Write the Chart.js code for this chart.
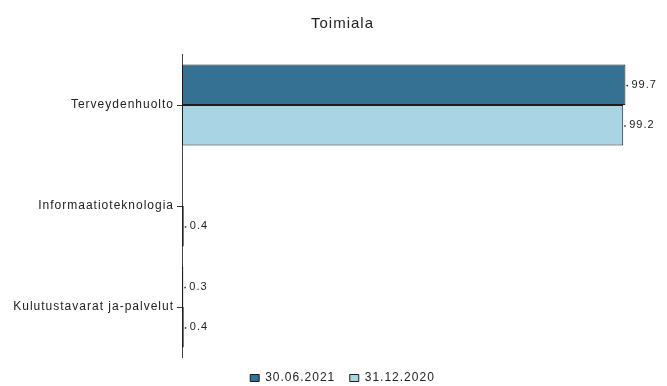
<!DOCTYPE html>
<html>
<head>
<meta charset="utf-8">
<script src="https://cdn.jsdelivr.net/npm/chart.js@4/dist/chart.umd.min.js"></script>
<style>
html,body{margin:0;padding:0;background:#fff;}
#wrap{width:667px;height:386px;position:relative;}
</style>
</head>
<body>
<div id="wrap"><canvas id="c"></canvas></div>
<script>
const categories = ['Terveydenhuolto', 'Informaatioteknologia', 'Kulutustavarat ja-palvelut'];
const seriesNames = ['30.06.2021', '31.12.2020'];
const values2021 = [99.7, null, 0.3];
const values2020 = [99.2, 0.4, 0.4];
const chartTitle = 'Toimiala';

const FONT = "'Liberation Sans', Arial, sans-serif";

function spacing(chart) { chart.ctx.letterSpacing = '1px'; }

const letterSpacingPlugin = {
  id: 'letterSpacing',
  beforeUpdate: spacing,
  beforeLayout: spacing,
  afterLayout(chart) { chart.scales.y.left = 0; },
  beforeDraw: spacing
};

const valueLabels = {
  id: 'valueLabels',
  afterDatasetsDraw(chart) {
    const ctx = chart.ctx;
    ctx.save();
    ctx.letterSpacing = '1px';
    ctx.font = '11px ' + FONT;
    ctx.fillStyle = '#222';
    ctx.textBaseline = 'middle';
    ctx.textAlign = 'left';
    chart.data.datasets.forEach((ds, i) => {
      const meta = chart.getDatasetMeta(i);
      meta.data.forEach((bar, j) => {
        const v = ds.data[j];
        if (v === null || v === undefined) return;
        ctx.fillRect(bar.x + 1, bar.y, 1.5, 1.5);
        ctx.fillText(v.toFixed(1), bar.x + 6, bar.y);
      });
    });
    ctx.restore();
  }
};

new Chart(document.getElementById('c'), {
  type: 'bar',
  data: {
    labels: categories,
    datasets: [
      { label: seriesNames[0], data: values2021, backgroundColor: 'rgb(52,113,147)', borderColor: '#1e1e1e', borderWidth: 1, borderSkipped: false },
      { label: seriesNames[1], data: values2020, backgroundColor: 'rgb(168,212,227)', borderColor: '#1e1e1e', borderWidth: 1, borderSkipped: false }
    ]
  },
  options: {
    indexAxis: 'y',
    responsive: true,
    maintainAspectRatio: false,
    animation: false,
    layout: { padding: { left: 36, right: 18, top: 0, bottom: -8 } },
    datasets: { bar: { barPercentage: 1.0, categoryPercentage: 0.8 } },
    scales: {
      x: { display: false, min: 0, max: 105 },
      y: {
        afterFit(scale) { scale.width = 146; },
        grid: { display: true, drawOnChartArea: false, offset: false, tickLength: 5, color: '#333', tickColor: '#333' },
        border: { display: true, color: '#444', width: 1 },
        ticks: { color: '#222', padding: 3, font: { family: FONT, size: 12 } }
      }
    },
    plugins: {
      title: { display: true, text: chartTitle, color: '#222', font: { family: FONT, size: 15, weight: 'normal', lineHeight: 1.2 }, padding: { top: 15, bottom: 21.5 } },
      legend: {
        position: 'bottom',
        labels: { color: '#222', boxWidth: 9, boxHeight: 7, padding: 14.5, font: { family: FONT, size: 12, lineHeight: 1 } }
      },
      tooltip: { enabled: false }
    }
  },
  plugins: [letterSpacingPlugin, valueLabels]
});
</script>
</body>
</html>
